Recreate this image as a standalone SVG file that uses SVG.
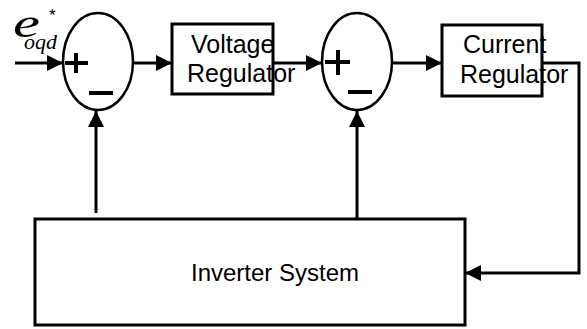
<svg xmlns="http://www.w3.org/2000/svg" width="587" height="329" viewBox="0 0 587 329">
<style>
.box{fill:#fff;stroke:#000;stroke-width:3}
.sum{fill:#fff;stroke:#000;stroke-width:2.5}
.wire{fill:none;stroke:#000;stroke-width:3}
.sign{fill:none;stroke:#000;stroke-width:4}
.lbl{font-family:"Liberation Sans",Arial,sans-serif;font-size:25px;fill:#000}
.math{font-family:"Liberation Serif","Times New Roman",serif;font-style:italic;fill:#000}
</style>
<defs>
<marker id="arr" viewBox="0 0 16 16" refX="16" refY="8" markerWidth="16" markerHeight="16" markerUnits="userSpaceOnUse" orient="auto">
<path d="M0,0 L16,8 L0,16 z" fill="#000"/>
</marker>
</defs>
<rect width="587" height="329" fill="#fff"/>
<g id="connectors">
<line class="wire" x1="15" y1="63" x2="63" y2="63" marker-end="url(#arr)"/>
<line class="wire" x1="133" y1="63" x2="172" y2="63" marker-end="url(#arr)"/>
<line class="wire" x1="273" y1="63" x2="322" y2="63" marker-end="url(#arr)"/>
<line class="wire" x1="392" y1="63" x2="442" y2="63" marker-end="url(#arr)"/>
<polyline class="wire" points="542,63 579,63 579,273 465,273" marker-end="url(#arr)"/>
<line class="wire" x1="96" y1="213" x2="96" y2="111" marker-end="url(#arr)"/>
<line class="wire" x1="357" y1="219" x2="357" y2="111" marker-end="url(#arr)"/>
</g>
<g id="input-label">
<text class="math" x="13" y="37" font-size="40"><tspan textLength="27" lengthAdjust="spacingAndGlyphs">e</tspan><tspan x="24" y="49" font-size="22">oqd</tspan></text>
<text x="49" y="21" font-family="Liberation Sans,Arial,sans-serif" font-size="17" fill="#000">*</text>
</g>
<g id="sum1">
<ellipse class="sum" cx="98" cy="61.5" rx="35" ry="48.5"/>
<path class="sign" d="M65,63 H88 M76,53 V73"/>
<path class="sign" d="M89,93 H113"/>
</g>
<g id="voltage-regulator">
<rect class="box" x="172" y="24" width="101" height="70"/>
<text class="lbl" x="191" y="53">Voltage</text>
<text class="lbl" x="187" y="82">Regulator</text>
</g>
<g id="sum2">
<ellipse class="sum" cx="357" cy="61.5" rx="35" ry="48.5"/>
<path class="sign" d="M325,62 H350 M338,50 V75"/>
<path class="sign" d="M348,92 H372"/>
</g>
<g id="current-regulator">
<rect class="box" x="442" y="25" width="100" height="71"/>
<text class="lbl" x="463" y="53">Current</text>
<text class="lbl" x="460" y="83">Regulator</text>
</g>
<g id="inverter-system">
<rect class="box" x="35" y="219" width="430" height="106"/>
<text class="lbl" x="191" y="281" style="font-size:24px">Inverter System</text>
</g>
</svg>
